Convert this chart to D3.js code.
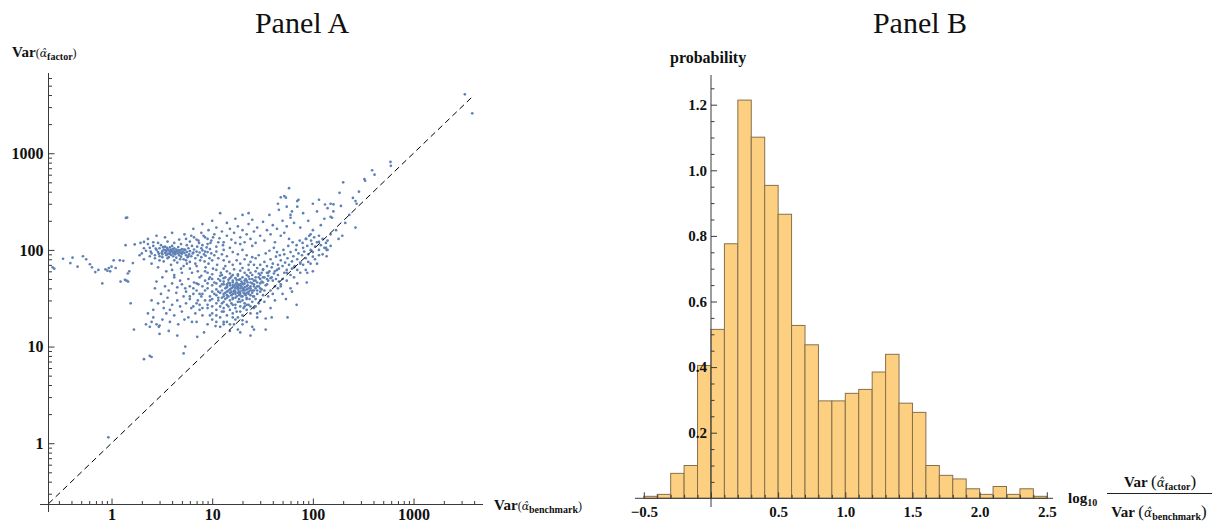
<!DOCTYPE html>
<html><head><meta charset="utf-8">
<script src="https://cdn.jsdelivr.net/npm/d3@7"></script>
<style>body{margin:0;background:#fff}svg{display:block}</style>
</head><body>
<svg id="c" width="1212" height="524"></svg>
<script>
// ---------- DATA ----------
const panelTitles = ["Panel A", "Panel B"];

// Panel A: Var(alpha_benchmark) vs Var(alpha_factor)
const scatterPoints = [
 // far left sparse
 [0.26,66],[0.27,64],[0.33,81],[0.41,83],[0.39,73],[0.46,67],[0.52,86],[0.56,80],[0.61,71],[0.64,66],[0.69,59],[0.81,45],[0.87,63],[0.94,65],[1.0,67],[1.05,78],[0.91,61],[1.21,78],[1.31,77],[1.63,73],[1.36,49],[1.41,48],[1.46,47],[1.55,28],[1.67,15],[1.38,112],[1.39,214],[1.43,216],[1.45,57],[1.23,47],[0.74,62],[0.97,60],[1.1,65],[1.5,60],[0.93,1.15],[1.94,118],[2.1,121],[1.7,114],
 // upper-left cluster
 [2.2,98],[2.4,105],[2.5,92],[2.6,110],[2.7,88],[2.8,100],[2.9,95],[3.0,104],[3.0,86],[3.1,112],[3.2,97],[3.2,90],[3.3,101],[3.4,93],[3.4,108],[3.5,96],[3.5,88],[3.6,102],[3.6,91],[3.7,99],[3.7,84],[3.8,106],[3.8,94],[3.9,89],[3.9,100],[4.0,96],[4.0,110],[4.1,92],[4.1,86],[4.2,104],[4.2,98],[4.3,90],[4.3,95],[4.4,101],[4.4,83],[4.5,97],[4.6,92],[4.6,107],[4.7,88],[4.8,99],[4.8,94],[4.9,85],[5.0,102],[5.0,91],[5.1,96],[5.2,80],[5.3,93],[5.4,100],[5.5,88],[5.6,95],[5.7,84],[5.8,104],[5.9,90],[6.0,97],[6.2,86],[6.4,92],[6.6,101],[6.8,82],[7.0,96],[7.2,88],[7.5,94],[7.8,84],[8.0,99],[8.3,90],[8.6,87],[9.0,95],[9.4,82],[9.8,92],[10.5,88],[11,96],[3.0,78],[3.3,76],[2.6,120],[2.3,115],[2.0,92],[1.9,88],[2.1,104],[2.9,118],[3.6,122],[4.2,118],[4.9,115],[5.6,112],[6.3,110],[7.1,108],[8.0,112],[8.8,106],[9.6,118],[6.0,75],[6.8,72],[7.6,78],[8.4,76],[9.2,72],[4.5,74],[3.9,70],[5.2,68],[6.0,64],[7.2,60],[5.0,58],[4.0,62],[8.6,66],[10,78],[11.5,82],[12.5,90],[13,100],[14,86],
 [2.45,96],[2.75,103],[3.15,93],[3.45,99],[3.75,91],[4.05,102],[4.35,94],[4.65,99],[4.95,93],[5.25,101],[3.85,97],[4.25,93],[3.55,105],[2.95,91],[3.25,107],
 [2.3,130],[2.8,140],[3.4,135],[4.0,150],[4.7,128],[5.3,145],[6.0,122],[6.6,135],[7.3,125],[8.2,140],[9.0,130],[10.2,135],[11.5,120],[12.8,112],[2.1,80],[2.5,72],[2.9,66],[3.5,60],[4.2,52],[4.9,64],[5.6,72],[6.3,58],[7.0,68],[7.8,54],[8.5,60],[9.3,50],[10.2,64],[11.2,70],[12.2,58],[13.5,68],[14.8,75],[16,70],[17.5,78],[19,72],[21,80],[23,70],[25,84],[18,90],[20,100],[22,88],[16,95],[15,105],[13,78],[11,108],[9.5,102],[8.5,96],[7.8,104],[6.5,94],[5.8,86],[5.5,78],[4.8,80],[4.2,78],[3.6,82],[3.2,84],[2.7,82],[2.4,86],
 // upper scattered
 [5.5,130],[6.2,140],[7.0,128],[7.8,150],[8.5,135],[9.2,160],[9.8,125],[10.5,145],[11,170],[11.8,132],[12.5,155],[13,120],[14,140],[15,165],[15.5,128],[16.5,150],[17,118],[18,175],[19,135],[20,160],[21,120],[22,145],[23,185],[24,130],[25,205],[26,155],[27,118],[28,170],[30,140],[32,195],[33,125],[35,160],[37,230],[38,145],[40,180],[42,120],[44,165],[46,260],[48,140],[50,200],[52,150],[55,175],[58,130],[60,215],[62,250],[14,190],[17,210],[20,230],[10,200],[8,185],[12,240],[6.5,165],[19,115],[25,110],[9,115],[7.4,118],[45,300],[55,280],[48,350],[23,240],
 // main cluster
 [9,58],[11,62],[12.5,55],[14,60],[15,57],[16.5,63],[18,56],[19,61],[21,58],[23,62],[25,55],[27,60],[29,57],[32,63],[35,58],[10,56],[13,64],[20,65],[24,58],[30,55],
 [8.5,48],[9.5,52],[10.5,46],[11.5,50],[12,54],[13,47],[13.5,52],[14.5,49],[15,45],[15.5,53],[16,48],[17,51],[17.5,46],[18,54],[18.5,49],[19.5,47],[20,52],[21,45],[21.5,50],[22,48],[23,53],[24,46],[25,50],[26,48],[27,52],[28,46],[30,50],[31,47],[33,52],[36,48],[38,51],[16,55],[19,44],[22,55],[14,44],
 [9,40],[10,43],[11,39],[12,42],[12.5,38],[13,44],[13.5,40],[14,42],[14.5,38],[15,43],[15.5,40],[16,41],[16.5,38],[17,44],[17.5,42],[18,39],[18.5,43],[19,40],[19.5,42],[20,38],[20.5,44],[21,41],[22,39],[22.5,43],[23,40],[24,42],[25,38],[26,44],[27,40],[29,42],[31,39],[34,43],[17,40],[18,41],[19,43],[20,40],[21,38],[16,43],[15,39],[14,41],
 [8,35],[9.5,33],[10,37],[11,34],[12,36],[12.5,32],[13,35],[14,37],[14.5,33],[15,36],[15.5,34],[16,32],[16.5,37],[17,35],[17.5,33],[18,36],[18.5,34],[19,37],[20,33],[20.5,36],[21,35],[22,32],[23,37],[24,34],[25,36],[26,33],[28,35],[30,37],[32,34],[13,33],[16,35],[19,35],[22,36],[11.5,32],[24,38],
 [7,28],[8.5,30],[9,27],[10,31],[11,28],[11.5,30],[12,26],[13,29],[13.5,31],[14,27],[15,30],[15.5,28],[16,31],[17,27],[18,29],[18.5,31],[19,26],[20,30],[21,28],[22,31],[23,27],[25,29],[27,31],[29,28],[14,32],[17,32],[10,26],[24,26],
 [7.5,24],[8,21],[9,25],[10,22],[11,24],[12,20],[12.5,23],[13,25],[14,21],[15,24],[16,22],[17,25],[18,20],[19,23],[20,21],[22,24],[24,22],[26,25],[28,20],[30,23],[11,21],[16,20],[21,26],
 [7,18],[9,17],[10,19],[12,16],[13,18],[15,17],[17,19],[18,15],[20,17],[22,18],[25,16],[19,14],[15,14.5],[24,13],
 [6,33],[6.5,40],[7,45],[7.5,52],[8,42],[8.5,38],[9,45],[9.5,30],[10,50],[10.5,35],[11,45],[11.5,37],[12,48],[12.5,44],[13,51],[13.5,36],[14,34],[14.5,46],[15,51],[15.5,37],[16,46],[16.5,42],[17,37],[17.5,49],[18,44],[18.5,37],[19,50],[19.5,33],[20,45],[20.5,39],[21,48],[21.5,34],[22,42],[22.5,46],[23,35],[23.5,50],[24,40],[25,45],[26,38],[27,48],[28,42],[29,52],[30,40],[31,58],[32,46],[33,38],[35,44],[37,60],[39,52],[41,57],[43,50],[46,47],[13,23],[14.5,26],[16,27],[17.5,23],[19,29],[20.5,25],[22,27],[23.5,31],[25.5,33],[27,26],[9.5,21],[11,18],[12.5,28],[8,25],[14,18],[16.5,17],[6.5,26],[7.5,35],[5.5,37],[4.5,41],[3.7,38],[3.3,29],[2.6,24],[2.3,22],[30,30],[33,29],[36,33],[40,35],[45,40],[28,38],[26,42],
 // lower-left band
 [2.2,17],[2.4,16],[2.5,18],[2.8,17],[3.0,16.5],[2.6,20],[3.2,19],[3.5,22],[3.3,25],[2.9,28],[3.8,24],[4.0,27],[4.2,21],[4.5,30],[4.8,26],[5.0,23],[5.2,33],[5.5,28],[5.8,20],[6.0,31],[6.2,25],[6.5,35],[6.8,22],[7.0,38],[7.2,30],[3.6,32],[4.4,36],[5.4,40],[3.1,35],[2.7,40],[4.0,45],[5.0,44],[6.0,42],[2.5,30],[3.8,18],[4.6,17],[5.3,19],[6.3,18],[7.5,27],[7.8,33],[3.4,42],[4.8,48],[5.8,50],[3.2,52],[4.2,55],[2.8,47],[6.6,46],[7.3,44],
 // diagonal band
 [28,65],[30,70],[32,62],[33,75],[35,68],[36,58],[38,80],[39,66],[40,72],[42,60],[43,85],[45,70],[46,64],[48,78],[50,68],[52,90],[53,74],[55,62],[56,82],[58,70],[60,95],[62,76],[64,86],[66,68],[68,100],[70,80],[72,92],[75,74],[78,88],[80,105],[82,96],[85,82],[88,110],[90,90],[95,100],[98,115],[100,95],[105,108],[110,120],[115,100],[120,112],[125,130],[130,105],[135,118],[140,125],[150,110],[100,85],[90,75],[80,70],[70,62],[60,55],[50,50],[45,55],[40,48],[35,50],[30,45],[55,48],[65,52],[75,58],[85,62],[95,72],[105,80],[115,88],[60,40],[50,35],[70,45],[42,42],[38,38],[48,44],[32,52],[26,70],[24,75],[27,82],[29,88],[34,92],[37,98],[41,105],[44,95],[47,88],[51,100],[57,110],[63,120],[69,112],[74,125],[79,118],[86,130],[92,140],[96,125],[103,135],[55,58],[65,66],[75,72],[36,54],[44,62],[52,58],[62,64],[125,90],[140,100],[115,140],[150,145],
 // below diagonal
 [69,27],[54,31],[34,19.5],[48,42],[88,58],[135,105],[62,37],[87,46],[137,86],[196,140],[265,170],[110,72],[42,30],[28,22],[38,25],[100,60],
 // upper right sparse
 [3236,4070],[3830,2590],[590,813],[595,740],[388,667],[410,600],[325,540],[330,520],[200,500],[58,435],[54,347],[52,360],[72,330],[70,320],[287,400],[184,389],[250,345],[265,320],[272,300],[132,295],[150,300],[160,296],[190,285],[155,215],[150,220],[115,121],[137,100],[100,160],[120,180],[90,200],[80,240],[110,250],[130,210],[170,160],[210,190],[95,145],[75,170],[65,190],[85,130],[180,130],[230,230],[160,250],[140,270],[70,280],[60,230],[100,300],[115,330],
 // bottom outliers
 [2.4,8.0],[2.1,7.4],[2.5,7.8],[5.2,8.5],[5.4,10],[4.5,13],[7.1,12.6],[3.0,13.5],[10.8,16.3],[8.3,14],[13,17],[20,18.7],[56,20],[39,20],[34,15],[26,15],[2.95,16],[3.7,14.5]
];
const diagonalRange = [0.2366, 4000];
const majorTicksA = [1, 10, 100, 1000];

// Panel B: histogram of log10 ratio
const binStarts = [-0.5,-0.4,-0.3,-0.2,-0.1,0.0,0.1,0.2,0.3,0.4,0.5,0.6,0.7,0.8,0.9,1.0,1.1,1.2,1.3,1.4,1.5,1.6,1.7,1.8,1.9,2.0,2.1,2.2,2.3,2.4];
const binProbabilities = [0.006,0.012,0.076,0.10,0.405,0.515,0.776,1.214,1.101,0.954,0.866,0.527,0.468,0.297,0.297,0.320,0.332,0.385,0.439,0.290,0.262,0.100,0.070,0.059,0.029,0.012,0.036,0.012,0.029,0.006];
const binWidth = 0.1;
const xTicksB = [-0.5, 0.5, 1.0, 1.5, 2.0, 2.5];
const xTickLabelsB = ["\u22120.5", "0.5", "1.0", "1.5", "2.0", "2.5"];
const yTicksB = [0.2, 0.4, 0.6, 0.8, 1.0, 1.2];
const yTickLabelsB = ["0.2", "0.4", "0.6", "0.8", "1.0", "1.2"];

// ---------- DRAW ----------
const FONT = "'Liberation Serif','Times New Roman',serif";
const svg = d3.select("#c");
const AX = "#3a3a3a";

svg.append("text").attr("x", 302).attr("y", 33).attr("text-anchor", "middle")
  .attr("font-family", FONT).attr("font-size", 30).attr("fill", "#111").text(panelTitles[0]);
svg.append("text").attr("x", 920).attr("y", 33).attr("text-anchor", "middle")
  .attr("font-family", FONT).attr("font-size", 30).attr("fill", "#111").text(panelTitles[1]);

// ===== Panel A =====
const xA = d3.scaleLog().domain([0.2366, 4898]).range([48.5, 483]);
const yA = d3.scaleLog().domain([0.2323, 6761]).range([504.5, 73]);
const gA = svg.append("g");

function minorLog(dom) {
  const out = [];
  for (let k = -1; k <= 3; k++) for (let m = 2; m <= 9; m++) {
    const v = m * Math.pow(10, k);
    if (v >= dom[0] && v <= dom[1]) out.push(v);
  }
  return out;
}

gA.append("g").selectAll("circle").data(scatterPoints).join("circle")
  .attr("cx", d => xA(d[0])).attr("cy", d => yA(d[1])).attr("r", 1.35)
  .attr("fill", "#5e81b5");

gA.append("path")
  .attr("d", d3.line()([[xA(diagonalRange[0]), yA(diagonalRange[0])], [xA(diagonalRange[1]), yA(diagonalRange[1])]]))
  .attr("stroke", "#000").attr("stroke-width", 1).attr("stroke-dasharray", "6,4").attr("fill", "none");

gA.append("line").attr("x1", 48.5).attr("x2", 48.5).attr("y1", 73).attr("y2", 512).attr("stroke", AX);
gA.append("line").attr("x1", 40).attr("x2", 483).attr("y1", 504.5).attr("y2", 504.5).attr("stroke", AX);

function styleAxis(g) { g.select(".domain").remove(); g.selectAll("line").attr("stroke", AX); }

gA.append("g").attr("transform", "translate(48.5,0)")
  .call(d3.axisRight(yA).tickValues(majorTicksA).tickSize(6).tickFormat(() => "")).call(styleAxis);
gA.append("g").attr("transform", "translate(48.5,0)")
  .call(d3.axisRight(yA).tickValues(minorLog(yA.domain())).tickSize(3.5).tickFormat(() => "")).call(styleAxis);
gA.append("g").attr("transform", "translate(0,504.5)")
  .call(d3.axisTop(xA).tickValues(majorTicksA).tickSize(6).tickFormat(() => "")).call(styleAxis);
gA.append("g").attr("transform", "translate(0,504.5)")
  .call(d3.axisTop(xA).tickValues(minorLog(xA.domain())).tickSize(3.5).tickFormat(() => "")).call(styleAxis);

function styleLabels(g, size) {
  g.select(".domain").remove();
  g.selectAll("text").attr("font-family", FONT).attr("font-weight", "bold")
    .attr("font-size", size).attr("fill", "#111");
}
gA.append("g").attr("transform", "translate(48.5,0)")
  .call(d3.axisLeft(yA).tickValues(majorTicksA).tickSize(0).tickPadding(5).tickFormat(d3.format("d")))
  .call(g => styleLabels(g, 16));
gA.append("g").attr("transform", "translate(0,504.5)")
  .call(d3.axisBottom(xA).tickValues(majorTicksA).tickSize(0).tickPadding(4).tickFormat(d3.format("d")))
  .call(g => styleLabels(g, 16));

function varLabel(parent, x, y, sub, anchor, big) {
  const t = parent.append("text").attr("x", x).attr("y", y).attr("font-family", FONT)
    .attr("fill", "#111").attr("text-anchor", anchor || "start");
  t.append("tspan").attr("font-weight", "bold").attr("font-size", 15).text(big ? "Var " : "Var");
  t.append("tspan").attr("font-size", big ? 17 : 12).text("(");
  t.append("tspan").attr("font-family", "'DejaVu Serif',serif").attr("font-style", "italic")
    .attr("font-size", big ? 12 : 11).text("\u03b1\u0302");
  t.append("tspan").attr("font-weight", "bold").attr("font-size", 10).attr("dy", 3).text(sub);
  t.append("tspan").attr("font-size", big ? 17 : 12).attr("dy", -3).text(")");
  return t;
}
varLabel(gA, 12, 57, "factor");
varLabel(gA, 494, 510, "benchmark");

// ===== Panel B =====
const xB = d3.scaleLinear().domain([-0.5, 2.5]).range([643.8, 1046.8]);
const yB = d3.scaleLinear().domain([0, 1.2]).range([498.3, 104.7]);
const gB = svg.append("g");

gB.append("g").selectAll("rect").data(binStarts.map((s, i) => ({ s, p: binProbabilities[i] }))).join("rect")
  .attr("x", d => xB(d.s)).attr("width", d => xB(d.s + binWidth) - xB(d.s))
  .attr("y", d => yB(d.p)).attr("height", d => yB(0) - yB(d.p))
  .attr("fill", "#fdd081").attr("stroke", "#86704c").attr("stroke-width", 1);

gB.append("line").attr("x1", 711).attr("x2", 711).attr("y1", 75).attr("y2", 507).attr("stroke", AX);
gB.append("line").attr("x1", 635).attr("x2", 1053).attr("y1", 498.3).attr("y2", 498.3).attr("stroke", AX);

const minorYB = d3.range(1, 26).map(i => i * 0.05).filter(v => Math.abs(v * 5 - Math.round(v * 5)) > 1e-6);
const minorXB = d3.range(-5, 26).map(i => i / 10).filter(v => Math.abs(v * 2 - Math.round(v * 2)) > 1e-6);

gB.append("g").attr("transform", "translate(711,0)")
  .call(d3.axisRight(yB).tickValues(yTicksB).tickSize(6).tickFormat(() => "")).call(styleAxis);
gB.append("g").attr("transform", "translate(711,0)")
  .call(d3.axisRight(yB).tickValues(minorYB).tickSize(3.5).tickFormat(() => "")).call(styleAxis);
gB.append("g").attr("transform", "translate(0,498.3)")
  .call(d3.axisTop(xB).tickValues(xTicksB.concat([0])).tickSize(6).tickFormat(() => "")).call(styleAxis);
gB.append("g").attr("transform", "translate(0,498.3)")
  .call(d3.axisTop(xB).tickValues(minorXB).tickSize(3.5).tickFormat(() => "")).call(styleAxis);

gB.append("g").attr("transform", "translate(711,0)")
  .call(d3.axisLeft(yB).tickValues(yTicksB).tickSize(0).tickPadding(4).tickFormat((d, i) => yTickLabelsB[i]))
  .call(g => styleLabels(g, 15));
gB.append("g").attr("transform", "translate(0,498.3)")
  .call(d3.axisBottom(xB).tickValues(xTicksB).tickSize(0).tickPadding(8).tickFormat((d, i) => xTickLabelsB[i]))
  .call(g => styleLabels(g, 15));

gB.append("text").attr("x", 670).attr("y", 63).attr("font-family", FONT).attr("font-weight", "bold")
  .attr("font-size", 16).attr("fill", "#111").text("probability");

const lg = gB.append("text").attr("x", 1068).attr("y", 503).attr("font-family", FONT).attr("fill", "#111");
lg.append("tspan").attr("font-weight", "bold").attr("font-size", 15).text("log");
lg.append("tspan").attr("font-weight", "bold").attr("font-size", 10).attr("dy", 3).text("10");
gB.append("line").attr("x1", 1107).attr("x2", 1212).attr("y1", 493.5).attr("y2", 493.5).attr("stroke", "#222");
varLabel(gB, 1160, 487, "factor", "middle", true);
varLabel(gB, 1159, 517, "benchmark", "middle", true);
</script>
</body></html>
